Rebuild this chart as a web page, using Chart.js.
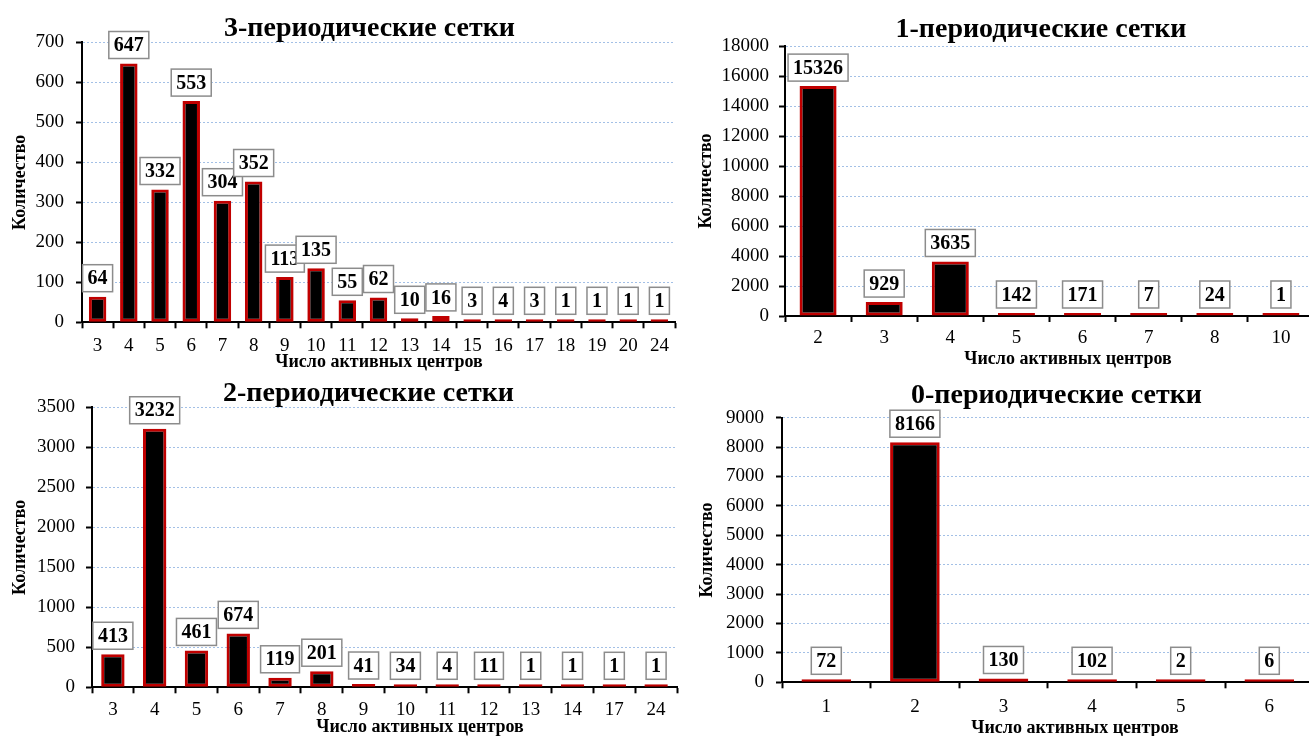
<!DOCTYPE html>
<html>
<head>
<meta charset="utf-8">
<title>Число активных центров</title>
<script src="https://cdn.jsdelivr.net/npm/chart.js@4.4.1/dist/chart.umd.min.js"></script>
<style>
  html, body { margin: 0; padding: 0; background: #fff; overflow: hidden; width: 1309px; height: 736px; }
  canvas { position: absolute; left: 0; top: 0; }
</style>
</head>
<body>
<canvas id="c3" width="1320" height="736"></canvas>
<canvas id="c1" width="1320" height="736"></canvas>
<canvas id="c2" width="1320" height="736"></canvas>
<canvas id="c0" width="1320" height="736"></canvas>
<script>
// ---- данные (число активных центров -> количество сеток) ----
var cats3 = ['3','4','5','6','7','8','9','10','11','12','13','14','15','16','17','18','19','20','24'];
var vals3 = [64, 647, 332, 553, 304, 352, 113, 135, 55, 62, 10, 16, 3, 4, 3, 1, 1, 1, 1];

var cats1 = ['2','3','4','5','6','7','8','10'];
var vals1 = [15326, 929, 3635, 142, 171, 7, 24, 1];

var cats2 = ['3','4','5','6','7','8','9','10','11','12','13','14','17','24'];
var vals2 = [413, 3232, 461, 674, 119, 201, 41, 34, 4, 11, 1, 1, 1, 1];

var cats0 = ['1','2','3','4','5','6'];
var vals0 = [72, 8166, 130, 102, 2, 6];

var yTicks3 = [0, 700, 100];     // min, max, step
var yTicks1 = [0, 18000, 2000];
var yTicks2 = [0, 3500, 500];
var yTicks0 = [0, 9000, 1000];

var panelTitles = ['3-периодические сетки', '1-периодические сетки', '2-периодические сетки', '0-периодические сетки'];
var yAxisTitle = 'Количество';
var xAxisTitle = 'Число активных центров';

var FONT = "'Liberation Serif', 'Times New Roman', serif";
var W = 1320, H = 736;

// подписи значений в рамках + заголовки панелей и оси X
var boxLabels = {
  id: 'boxLabels',
  afterDatasetsDraw: function(chart) {
    var ctx = chart.ctx;
    var ds = chart.data.datasets[0];
    var meta = chart.getDatasetMeta(0);
    ctx.save();
    ctx.font = 'bold 20px ' + FONT;
    ctx.textAlign = 'center';
    ctx.textBaseline = 'middle';
    meta.data.forEach(function(bar, i) {
      var txt = String(ds.data[i]);
      var tw = ctx.measureText(txt).width;
      var bw = tw + 10, bh = 27;
      var bottom = bar.y - 5;
      ctx.fillStyle = '#fff';
      ctx.fillRect(bar.x - bw / 2, bottom - bh, bw, bh);
      ctx.lineWidth = 1.5;
      ctx.strokeStyle = '#8c8c8c';
      ctx.strokeRect(bar.x - bw / 2, bottom - bh, bw, bh);
      ctx.fillStyle = '#000';
      ctx.fillText(txt, bar.x, bottom - bh / 2 + 1);
    });
    ctx.restore();
  },
  afterDraw: function(chart, args, opts) {
    var ctx = chart.ctx;
    ctx.save();
    ctx.fillStyle = '#000';
    ctx.textAlign = 'center';
    ctx.textBaseline = 'middle';
    ctx.font = 'bold 28px ' + FONT;
    ctx.fillText(opts.title, opts.titleX, opts.titleY);
    ctx.font = 'bold 18px ' + FONT;
    ctx.fillText(xAxisTitle, opts.xTitleX, opts.xTitleY);
    ctx.restore();
  }
};

function makeChart(id, labels, values, yTicks, title, p) {
  var ctx = document.getElementById(id).getContext('2d');
  return new Chart(ctx, {
    type: 'bar',
    data: {
      labels: labels,
      datasets: [{
        data: values,
        backgroundColor: '#000',
        borderColor: '#c00000',
        borderWidth: 3,
        borderSkipped: false,
        minBarLength: 3,
        barPercentage: 0.56,
        categoryPercentage: 1
      }]
    },
    options: {
      responsive: false,
      animation: false,
      layout: {
        padding: { left: p.padLeft, top: p.top, right: W - p.right, bottom: 0 }
      },
      plugins: {
        legend: { display: false },
        tooltip: { enabled: false },
        boxLabels: {
          title: title, titleX: p.titleX, titleY: p.titleY,
          xTitleX: p.xTitleX, xTitleY: p.xTitleY
        }
      },
      scales: {
        x: {
          type: 'category',
          offset: true,
          afterFit: function(s) { s.height = H - p.bottom; },
          grid: { offset: true, drawOnChartArea: false, drawTicks: true, tickLength: 6, tickWidth: 2, tickColor: '#000' },
          border: { color: '#000', width: 2 },
          ticks: { color: '#000', font: { family: FONT, size: 19 }, padding: p.xTickPad, maxRotation: 0, autoSkip: false }
        },
        y: {
          min: yTicks[0],
          max: yTicks[1],
          afterFit: function(s) { s.width = p.left - p.padLeft; },
          ticks: {
            stepSize: yTicks[2],
            color: '#000',
            font: { family: FONT, size: 19 },
            padding: p.yTickPad,
            callback: function(v) { return String(v); }
          },
          grid: {
            color: function(c) { return c.tick && c.tick.value === 0 ? 'rgba(0,0,0,0)' : '#a3c0e6'; },
            lineWidth: 1,
            tickColor: '#000',
            tickWidth: 2,
            tickLength: 6
          },
          border: { color: '#000', width: 2, dash: [2, 2] },
          title: {
            display: true,
            text: yAxisTitle,
            color: '#000',
            font: { family: FONT, size: 18, weight: 'bold' },
            padding: { top: p.yTitleX - p.padLeft - 10.8, bottom: 0 }
          }
        }
      }
    },
    plugins: [boxLabels]
  });
}

makeChart('c3', cats3, vals3, yTicks3, panelTitles[0], {
  padLeft: 0, left: 82, top: 42.3, right: 675, bottom: 322.3,
  yTitleX: 20, yTickPad: 12, xTickPad: 6,
  titleX: 369.5, titleY: 29, xTitleX: 379, xTitleY: 362
});
makeChart('c1', cats1, vals1, yTicks1, panelTitles[1], {
  padLeft: 690, left: 785, top: 46, right: 1314, bottom: 316,
  yTitleX: 706, yTickPad: 10, xTickPad: 5,
  titleX: 1041, titleY: 30, xTitleX: 1068, xTitleY: 359
});
makeChart('c2', cats2, vals2, yTicks2, panelTitles[2], {
  padLeft: 0, left: 92, top: 407.3, right: 677, bottom: 687.3,
  yTitleX: 20, yTickPad: 11, xTickPad: 5.5,
  titleX: 368.5, titleY: 394, xTitleX: 420, xTitleY: 727
});
makeChart('c0', cats0, vals0, yTicks0, panelTitles[3], {
  padLeft: 690, left: 782, top: 417.7, right: 1313.6, bottom: 682.3,
  yTitleX: 707, yTickPad: 12, xTickPad: 7,
  titleX: 1056.5, titleY: 396, xTitleX: 1075, xTitleY: 728
});
</script>
</body>
</html>
